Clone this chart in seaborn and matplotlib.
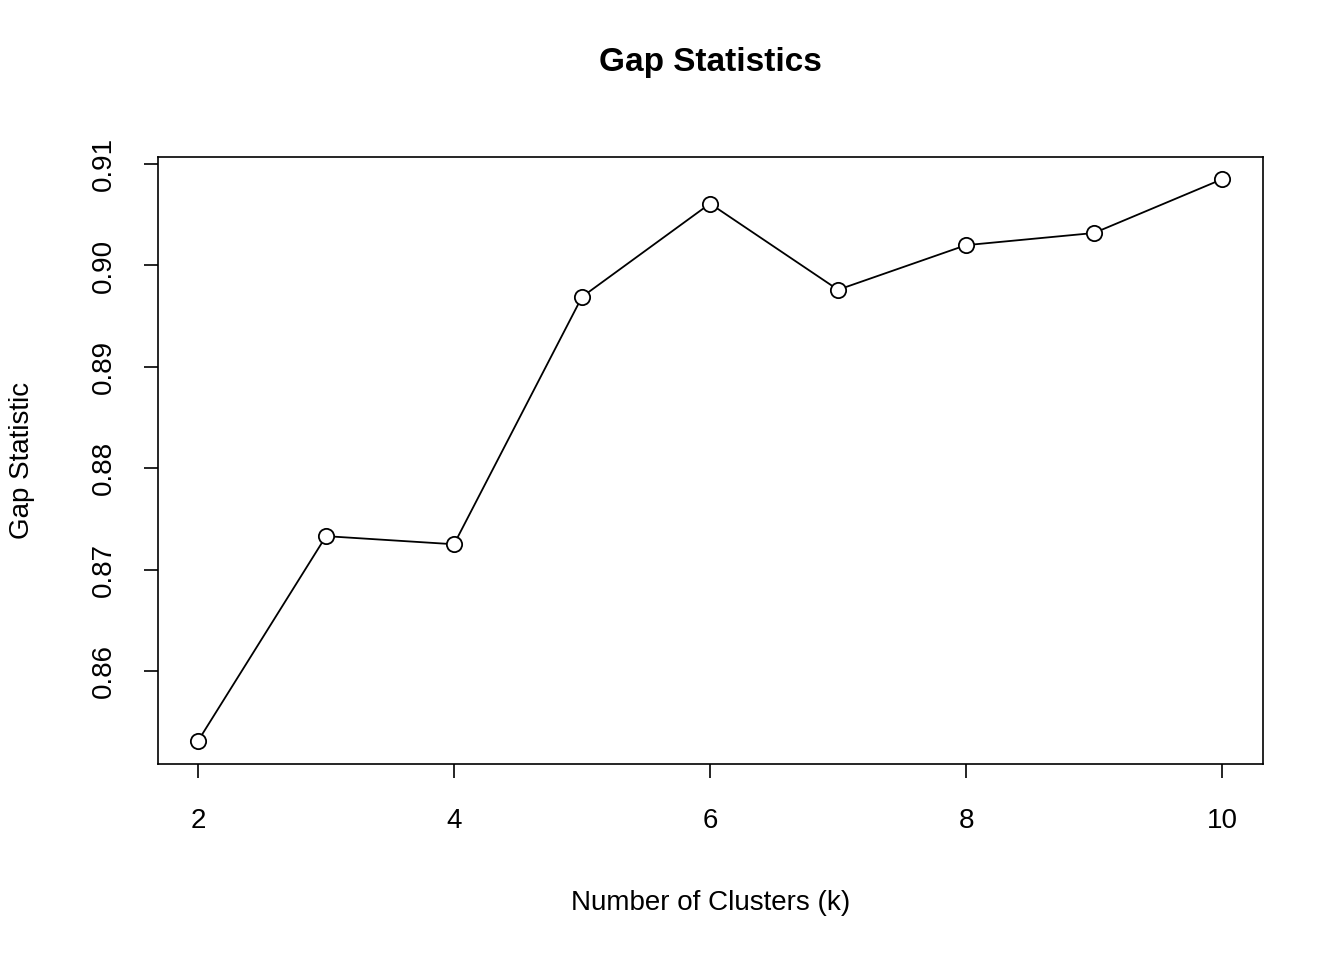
import matplotlib
matplotlib.use('Agg')
import matplotlib.pyplot as plt
import seaborn as sns
import pandas as pd

clusters = [2, 3, 4, 5, 6, 7, 8, 9, 10]
gap_values = [0.8531, 0.8733, 0.8725, 0.8969, 0.9061, 0.8976, 0.9020, 0.9032, 0.9085]
y_ticks = [0.86, 0.87, 0.88, 0.89, 0.90, 0.91]
y_tick_labels = ['0.86', '0.87', '0.88', '0.89', '0.90', '0.91']
x_ticks = [2, 4, 6, 8, 10]

sns.set_style('ticks')
plt.rcParams['font.family'] = ['Liberation Sans', 'DejaVu Sans']
plt.rcParams['text.color'] = 'black'
plt.rcParams['axes.labelcolor'] = 'black'
plt.rcParams['xtick.color'] = 'black'
plt.rcParams['ytick.color'] = 'black'

df = pd.DataFrame({'k': clusters, 'gap': gap_values})

fig = plt.figure(figsize=(13.44, 9.6), dpi=100)
ax = fig.add_axes([0.1176, 0.2042, 0.8221, 0.6323])
sns.lineplot(data=df, x='k', y='gap', ax=ax, color='black', linewidth=1.3,
             marker='o', markersize=11, markerfacecolor='white',
             markeredgecolor='black', markeredgewidth=1.3)

ax.set_xlim(1.6875, 10.32)
ax.set_ylim(0.85083, 0.9107)
ax.set_xticks(x_ticks)
ax.set_xticklabels([str(x) for x in x_ticks], fontsize=20)
ax.set_yticks(y_ticks)
ax.set_yticklabels(y_tick_labels, fontsize=20, rotation=90, va='center')
ax.tick_params(length=10, width=1.2, color='black')
ax.tick_params(axis='x', pad=22)
ax.tick_params(axis='y', pad=20)
for s in ax.spines.values():
    s.set_visible(True)
    s.set_linewidth(1.2)
    s.set_color('black')

ax.set_xlabel('Number of Clusters (k)', fontsize=20, labelpad=40)
ax.set_ylabel('Gap Statistic', fontsize=20, labelpad=40)
ax.set_title('Gap Statistics', fontsize=24, fontweight='bold', pad=62)

fig.savefig('out.png', dpi=100)
